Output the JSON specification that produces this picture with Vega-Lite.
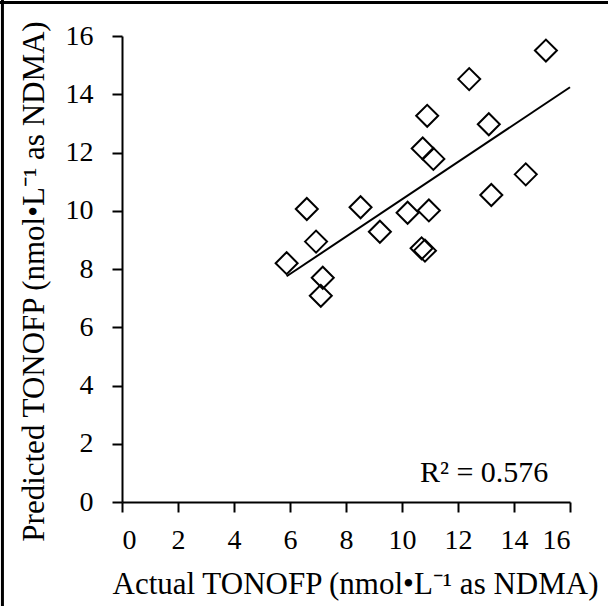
{
  "$schema": "https://vega.github.io/schema/vega-lite/v6.json",
  "autosize": "none",
  "width": 448,
  "height": 466,
  "padding": {"left": 122, "top": 36, "right": 38, "bottom": 104},
  "background": "white",
  "config": {
    "view": {"stroke": null},
    "font": "Liberation Serif",
    "axis": {
      "grid": false,
      "domainColor": "black",
      "domainWidth": 2,
      "tickColor": "black",
      "tickWidth": 2,
      "tickSize": 10,
      "labelFont": "Liberation Serif",
      "labelFontSize": 28,
      "labelColor": "black",
      "titleFont": "Liberation Serif",
      "titleFontSize": 31,
      "titleFontWeight": "normal",
      "titleColor": "black"
    }
  },
  "datasets": {
    "obs": [
      {"actual": 5.88, "predicted": 8.20},
      {"actual": 6.60, "predicted": 10.06},
      {"actual": 6.93, "predicted": 8.94},
      {"actual": 7.17, "predicted": 7.70},
      {"actual": 7.10, "predicted": 7.08},
      {"actual": 8.52, "predicted": 10.12},
      {"actual": 9.21, "predicted": 9.28},
      {"actual": 10.20, "predicted": 9.93},
      {"actual": 10.96, "predicted": 10.01},
      {"actual": 10.70, "predicted": 8.71},
      {"actual": 10.82, "predicted": 8.63},
      {"actual": 10.74, "predicted": 12.14},
      {"actual": 11.12, "predicted": 11.78},
      {"actual": 10.90, "predicted": 13.26},
      {"actual": 12.40, "predicted": 14.52},
      {"actual": 13.10, "predicted": 12.97},
      {"actual": 13.19, "predicted": 10.54},
      {"actual": 14.42, "predicted": 11.25},
      {"actual": 15.14, "predicted": 15.50}
    ],
    "trend": [
      {"actual": 5.88, "predicted": 7.75},
      {"actual": 16.0, "predicted": 14.24}
    ]
  },
  "layer": [
    {
      "data": {"name": "obs"},
      "mark": {"type": "point", "shape": "diamond", "size": 484, "filled": false, "stroke": "black", "strokeWidth": 2, "opacity": 1},
      "encoding": {
        "x": {"field": "actual", "type": "quantitative",
              "scale": {"domain": [0, 16], "nice": false},
              "axis": {"values": [0, 2, 4, 6, 8, 10, 12, 14, 16], "labelPadding": 14, "titlePadding": 15,
                       "labelFont": "Liberation Serif", "titleFont": "Liberation Serif",
                       "title": "Actual TONOFP (nmol•L⁻¹ as NDMA)", "titleX": 476, "titleAlign": "right", "titleAnchor": null}},
        "y": {"field": "predicted", "type": "quantitative",
              "scale": {"domain": [0, 16], "nice": false},
              "axis": {"values": [0, 2, 4, 6, 8, 10, 12, 14, 16], "labelPadding": 19, "titlePadding": 15,
                       "labelFont": "Liberation Serif", "titleFont": "Liberation Serif",
                       "title": "Predicted TONOFP (nmol•L⁻¹ as NDMA)", "titleY": 245, "titleAnchor": null}}
      }
    },
    {
      "data": {"name": "trend"},
      "mark": {"type": "line", "color": "black", "strokeWidth": 2},
      "encoding": {
        "x": {"field": "actual", "type": "quantitative"},
        "y": {"field": "predicted", "type": "quantitative"}
      }
    },
    {
      "data": {"values": [{"label": "R² = 0.576"}]},
      "mark": {"type": "text", "align": "left", "baseline": "alphabetic", "fontSize": 30, "font": "Liberation Serif", "color": "black"},
      "encoding": {
        "x": {"datum": 10.64, "type": "quantitative"},
        "y": {"datum": 0.69, "type": "quantitative"},
        "text": {"field": "label"}
      }
    },
    {
      "data": {"values": [{}]},
      "mark": {"type": "rule", "color": "black", "strokeWidth": 3, "clip": false},
      "encoding": {
        "x": {"datum": -4.27, "type": "quantitative"},
        "y": {"datum": 17.24, "type": "quantitative"},
        "y2": {"datum": -3.57}
      }
    },
    {
      "data": {"values": [{}]},
      "mark": {"type": "rule", "color": "black", "strokeWidth": 3, "clip": false},
      "encoding": {
        "y": {"datum": 17.15, "type": "quantitative"},
        "x": {"datum": -4.36, "type": "quantitative"},
        "x2": {"datum": 17.36}
      }
    }
  ]
}
